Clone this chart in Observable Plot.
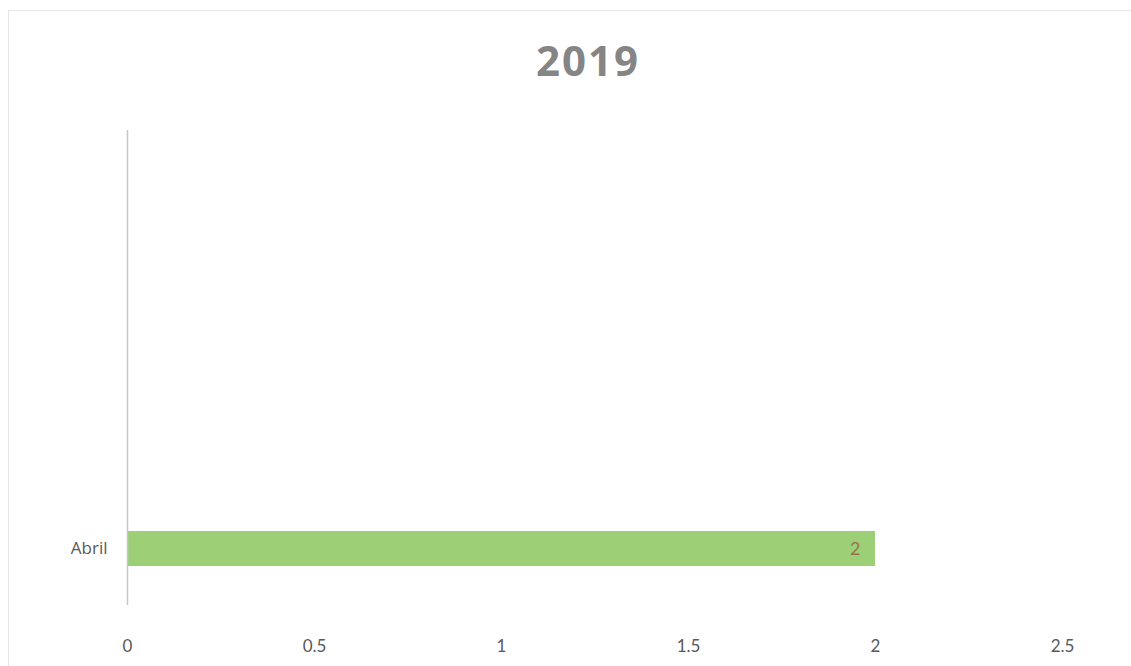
<!DOCTYPE html>
<html>
<head>
<meta charset="utf-8">
<script src="https://cdn.jsdelivr.net/npm/d3@7"></script>
<script src="https://cdn.jsdelivr.net/npm/@observablehq/plot@0.6"></script>
<style>
  html, body { margin: 0; padding: 0; background: #fff; }
  #wrap { position: relative; width: 1131px; height: 666px; overflow: hidden; }
  #frame { position: absolute; left: 8px; top: 10px; right: -2px; bottom: -2px; border: 1px solid #e6e6e6; }
  #title { position: absolute; left: 0; top: 30px; width: 1176px; text-align: center;
           font-family: "Open Sans", sans-serif; font-weight: 700; font-size: 42px; letter-spacing: 2px;
           color: #858585; line-height: 60px; }
  #chart { position: absolute; left: 0; top: 100px; }
</style>
</head>
<body>
<div id="wrap">
  <div id="frame"></div>
  <div id="title">2019</div>
  <div id="chart"></div>
</div>
<script>
const months = ["Abril"];
const values = [2];
const xTicks = [0, 0.5, 1, 1.5, 2, 2.5];
const titleText = "2019";

document.getElementById("title").textContent = titleText;
const data = months.map((m, i) => ({month: m, value: values[i]}));

const plot = Plot.plot({
  width: 1131,
  height: 566,
  marginLeft: 127,
  marginRight: 69,
  marginTop: 30,
  marginBottom: 61,
  style: {fontFamily: "Lato, 'Open Sans', sans-serif", fontSize: "17px", color: "#595959", background: "transparent"},
  x: {domain: [0, 2.5], ticks: xTicks, tickFormat: d => String(d), label: null},
  y: {domain: months, padding: 0.863, align: 0.91, label: null},
  marks: [
    Plot.barX(data, {x: "value", y: "month", fill: "#9ccf76"}),
    Plot.ruleX([0], {stroke: "#c6c3d8", strokeWidth: 1.5}),
    Plot.text(data, {x: "value", y: "month", text: d => String(d.value), textAnchor: "end", dx: -15,
                     fill: "#9a7256", fontSize: 18}),
    Plot.axisX({ticks: xTicks, tickSize: 0, tickPadding: 34, tickFormat: d => String(d), fill: "#595959", fontSize: 17, label: null}),
    Plot.axisY({tickSize: 0, tickPadding: 20, fill: "#595959", fontSize: 17, fontFamily: "'Open Sans', sans-serif", label: null})
  ]
});
document.getElementById("chart").appendChild(plot);
</script>
</body>
</html>
